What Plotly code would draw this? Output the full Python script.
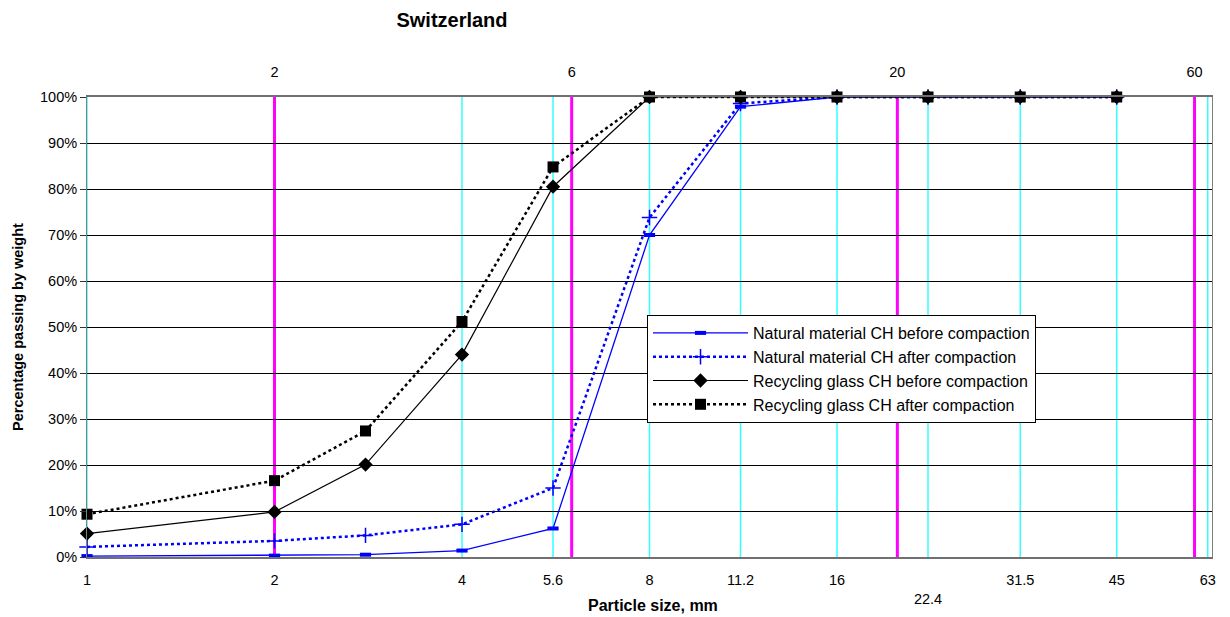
import plotly.graph_objects as go

# ---------------- data ----------------
sieve_sizes = [1, 2, 2.8, 4, 5.6, 8, 11.2, 16, 22.4, 31.5, 45]
natural_before = [0.2, 0.3, 0.5, 1.4, 6.2, 70.0, 97.9, 100, 100, 100, 100]
natural_after = [2.2, 3.5, 4.7, 7.1, 15.0, 73.8, 98.6, 100, 100, 100, 100]
recycling_before = [5.1, 9.8, 20.1, 44.0, 80.5, 100, 100, 100, 100, 100, 100]
recycling_after = [9.3, 16.6, 27.4, 51.2, 84.8, 100, 100, 100, 100, 100, 100]

bottom_ticks = [1, 2, 4, 5.6, 8, 11.2, 16, 22.4, 31.5, 45, 63]
bottom_labels = ["1", "2", "4", "5.6", "8", "11.2", "16", "<br>22.4", "31.5", "45", "63"]
top_ticks = [2, 6, 20, 60]
top_labels = ["2", "6", "20", "60"]
y_ticks = [0, 10, 20, 30, 40, 50, 60, 70, 80, 90, 100]
y_labels = ["0%", "10%", "20%", "30%", "40%", "50%", "60%", "70%", "80%", "90%", "100%"]

FONT = "Liberation Sans, Arial, sans-serif"
TICK = 14.5

fig = go.Figure()

fig.add_trace(go.Scatter(
    x=sieve_sizes, y=natural_before, mode="lines+markers",
    name="Natural material CH before compaction", cliponaxis=False,
    line=dict(color="#0000FF", width=1.3),
    marker=dict(symbol="line-ew", size=8, line=dict(color="#0000FF", width=4)),
))
fig.add_trace(go.Scatter(
    x=sieve_sizes, y=natural_after, mode="lines+markers",
    name="Natural material CH after compaction", cliponaxis=False,
    line=dict(color="#0000FF", width=2.5, dash="dot"),
    marker=dict(symbol="cross-thin", size=11, line=dict(color="#0000FF", width=1.5)),
))
fig.add_trace(go.Scatter(
    x=sieve_sizes, y=recycling_before, mode="lines+markers",
    name="Recycling glass CH before compaction", cliponaxis=False,
    line=dict(color="#000000", width=1.2),
    marker=dict(symbol="diamond", size=11, color="#000000"),
))
fig.add_trace(go.Scatter(
    x=sieve_sizes, y=recycling_after, mode="lines+markers",
    name="Recycling glass CH after compaction", cliponaxis=False,
    line=dict(color="#000000", width=2.5, dash="dot"),
    marker=dict(symbol="square", size=11, color="#000000"),
))

# invisible trace to activate top axis
fig.add_trace(go.Scatter(x=top_ticks, y=[None] * len(top_ticks), xaxis="x2",
                         showlegend=False, hoverinfo="skip", mode="markers"))

shapes = []
for v in bottom_ticks:
    shapes.append(dict(type="line", xref="x", yref="paper", x0=v, x1=v, y0=0, y1=1,
                       line=dict(color="#33FFFF", width=1.5), layer="between"))
for v in top_ticks:
    shapes.append(dict(type="line", xref="x", yref="paper", x0=v, x1=v, y0=0, y1=1,
                       line=dict(color="#FF00FF", width=3), layer="between"))

fig.update_layout(
    width=1230, height=617,
    margin=dict(l=87, r=18, t=97, b=60),
    paper_bgcolor="white", plot_bgcolor="white",
    font=dict(family=FONT, size=TICK, color="#000000"),
    title=dict(text="<b>Switzerland</b>", x=452 / 1230, xanchor="center",
               y=1 - 20 / 617, yanchor="middle",
               font=dict(family=FONT, size=20, color="#000000")),
    xaxis=dict(type="log", range=[0, 1.80618], tickvals=bottom_ticks, ticktext=bottom_labels,
               showgrid=False, zeroline=False, ticks="", showline=True,
               linecolor="#707070", linewidth=2, mirror=True, automargin=False,
               tickfont=dict(size=TICK), ticklabelstandoff=9),
    xaxis2=dict(type="log", range=[0, 1.80618], overlaying="x", side="top",
                tickvals=top_ticks, ticktext=top_labels, showgrid=False, zeroline=False,
                ticks="", showline=False, automargin=False,
                tickfont=dict(size=TICK), ticklabelstandoff=16),
    yaxis=dict(range=[0, 100], tickvals=y_ticks, ticktext=y_labels, showgrid=True,
               gridcolor="#000000", gridwidth=1, zeroline=False, ticks="outside",
               ticklen=6, tickcolor="#333333", showline=True, linecolor="#808080",
               linewidth=1, mirror=True, automargin=False, tickfont=dict(size=TICK)),
    legend=dict(x=(647 - 87) / 1125, y=(557 - 315) / 460, xanchor="left", yanchor="top",
                bgcolor="white", bordercolor="#000000", borderwidth=1,
                font=dict(size=16, family=FONT), tracegroupgap=0, itemwidth=95),
    shapes=shapes,
    annotations=[
        dict(text="<b>Particle size, mm</b>", xref="paper", yref="paper", x=(653 - 87) / 1125,
             y=(557 - 605) / 460, xanchor="center", yanchor="middle", showarrow=False,
             font=dict(size=16, family=FONT)),
        dict(text="<b>Percentage passing by weight</b>", xref="paper", yref="paper",
             x=(18 - 87) / 1125, y=(557 - 327) / 460, xanchor="center", yanchor="middle",
             textangle=-90, showarrow=False, font=dict(size=14.5, family=FONT)),
    ],
    showlegend=True,
)

fig.write_html("out.html")
